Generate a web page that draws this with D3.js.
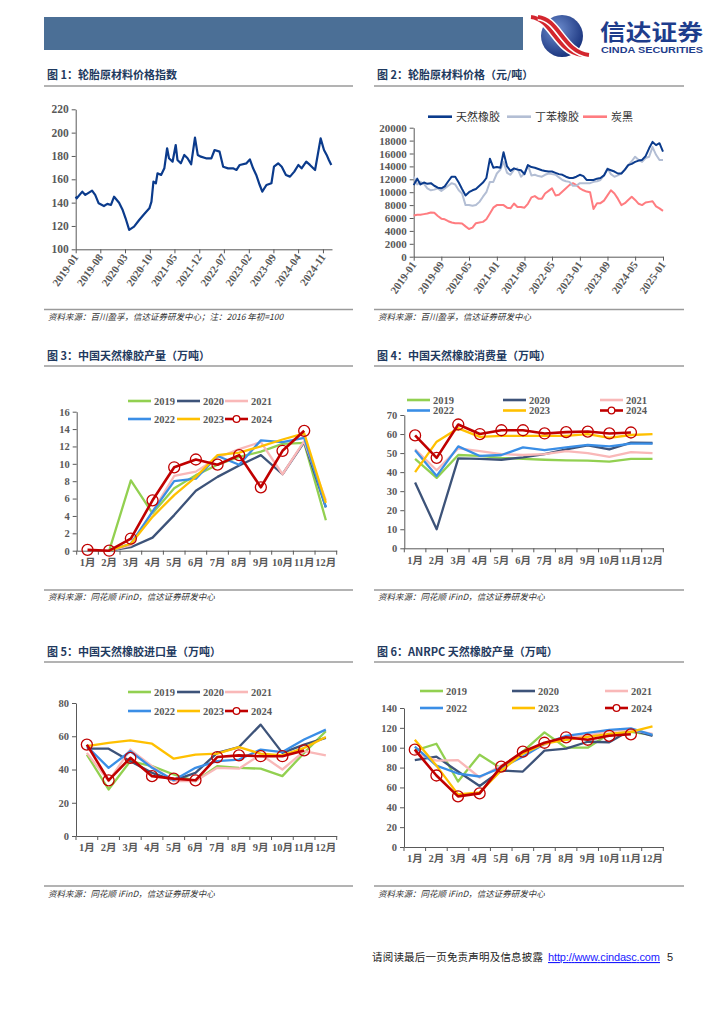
<!DOCTYPE html>
<html>
<head>
<meta charset="utf-8">
<script src="https://cdn.jsdelivr.net/npm/d3@7"></script>
<style>
body { margin: 0; background: #fff; }
svg { display: block; }
</style>
</head>
<body>
<script>

// fig 1: tyre raw material price index (2016 start = 100)
var idxDates = ["2019-01-01","2019-01-10","2019-02-27","2019-03-25","2019-04-25","2019-05-22","2019-06-18","2019-07-18",
	"2019-09-01","2019-10-01","2019-11-01","2019-11-28","2020-01-10","2020-02-10","2020-03-06","2020-04-06","2020-05-18",
	"2020-07-01","2020-08-12","2020-09-27","2020-10-15","2020-11-01","2020-11-22","2020-12-06","2021-01-06","2021-02-03",
	"2021-02-27","2021-03-15","2021-04-15","2021-05-12","2021-05-27","2021-06-25","2021-07-25","2021-08-22","2021-09-22",
	"2021-10-25","2021-11-18","2021-12-15","2022-01-28","2022-03-15","2022-04-12","2022-05-25","2022-06-25","2022-08-06",
	"2022-09-18","2022-10-18","2022-11-15","2023-01-12","2023-02-10","2023-03-10","2023-04-06","2023-05-06","2023-05-28",
	"2023-07-03","2023-08-15","2023-09-06","2023-10-12","2023-11-12","2023-12-18","2024-01-22","2024-02-28","2024-04-03",
	"2024-05-01","2024-06-10","2024-07-12","2024-08-25","2024-09-12","2024-10-12","2024-11-10","2024-12-03","2024-12-22","2025-01-12"];
var idxValues = [145.1,143.7,149.4,146.6,148.6,150.3,146.6,139.4,
	137.1,138.9,138.0,145.1,139.9,133.6,126.6,116.6,119.4,
	125.1,130.0,135.1,140.9,158.0,156.6,165.1,163.7,169.4,
	186.6,178.0,175.1,189.4,176.6,173.7,180.9,178.0,172.9,
	195.7,180.9,179.4,178.0,178.0,185.1,183.7,170.8,169.4,
	169.4,168.0,172.3,173.7,177.1,169.4,163.7,155.1,149.4,
	155.1,156.6,170.8,173.7,170.8,163.7,162.3,166.6,172.3,
	169.4,175.1,172.3,168.0,178.0,195.1,185.1,180.9,176.6,172.3];
var idxTickDates = ["2019-01","2019-08","2020-03","2020-10","2021-05","2021-12","2022-07","2023-02","2023-09","2024-04","2024-11"];
var idxTickValues = [100,120,140,160,180,200,220];

// fig 2: tyre raw material prices, monthly from 2019-01 to 2025-01 (yuan/t)
var priceNames = ["天然橡胶","丁苯橡胶","炭黑"];
var priceColors = ["#0b3b8c","#b3bed4","#ff7c80"];
var rubberPrice = [11100,12100,11200,11500,11300,11400,11000,10700,10600,10900,11700,12400,
	12400,11500,10500,9500,10000,10300,10500,11000,11500,12200,15200,13800,
	13900,13800,16200,14000,13300,13700,13500,13400,12800,14200,13900,13800,
	13600,13400,13300,13200,13200,13000,12800,12700,12400,12200,12200,12400,
	12700,12500,11900,11900,11900,12100,12200,12600,13600,13400,13200,12900,
	12900,13500,14200,14400,14700,14900,15000,15600,16800,17800,17300,17600,
	16300];
var sbrPrice = [12400,11200,11600,11300,10600,10300,10400,10600,10200,10600,11000,11400,
	11200,10300,9800,8000,8000,7900,8000,8500,9300,10000,11600,11600,
	12900,13500,14700,13000,12700,13500,13700,12400,12900,14200,12600,12700,
	12500,12400,12700,12900,12800,12700,12300,11900,11700,11600,11000,11000,
	11400,11400,11400,11400,11600,11700,11900,12600,13700,12800,12400,12600,
	12900,13500,14200,14800,15500,15000,14700,15300,15500,17000,15800,15000,
	15000];
var carbonPrice = [6400,6500,6500,6600,6700,6850,6800,6300,5900,5800,5500,5300,
	5200,5200,5150,4700,4300,4500,5200,5300,5400,5800,6700,7600,
	8000,8000,8000,7600,7500,8250,7700,7700,7600,8200,9200,9400,
	9000,9000,9800,10200,10600,9500,9600,10100,10600,11100,11400,11100,
	10600,10300,10100,10000,7400,8300,8300,8700,9500,10300,9800,9000,
	8000,8300,8800,9300,8800,8200,8000,8400,8500,8600,7800,7500,
	7100];
var priceTickDates = ["2019-01","2019-09","2020-05","2021-01","2021-09","2022-05","2023-01","2023-09","2024-05","2025-01"];
var priceTickValues = [0,2000,4000,6000,8000,10000,12000,14000,16000,18000,20000];

// fig 3-6: monthly series by year
var months = ["1月","2月","3月","4月","5月","6月","7月","8月","9月","10月","11月","12月"];
var years = ["2019","2020","2021","2022","2023","2024"];
var yearColors = ["#92d050","#3d5379","#f9b8b8","#3a8ee6","#ffc000","#c00000"];

// fig 3: China natural rubber output (10k t)
var prod2019 = [null,0,8.1,4.3,7.2,8.7,9.9,10.8,11.4,12.3,12.4,3.5];
var prod2020 = [null,0,0.4,1.5,4.1,6.9,8.5,9.8,11.0,8.8,12.5,5.0];
var prod2021 = [null,0,0.6,4.5,8.6,9.1,10.7,11.7,12.5,8.8,12.6,5.8];
var prod2022 = [null,0,0.8,4.5,8.0,8.3,10.9,9.9,12.7,12.5,13.0,5.0];
var prod2023 = [null,0,0.8,3.9,6.4,8.5,11.0,11.3,12.0,12.8,13.5,5.5];
var prod2024 = [0.1,0,1.4,5.8,9.6,10.5,9.9,11.0,7.3,11.5,13.8,null];

// fig 4: China natural rubber consumption (10k t)
var cons2019 = [47,37,49,48.5,47.5,47,46.5,46.2,46,45.5,47,47];
var cons2020 = [34.5,10,47.2,47,46.5,47.8,49.5,52,54,52,55.5,55.3];
var cons2021 = [52,41,52.5,51,49.5,49,49.5,51,50,48,50.5,50];
var cons2022 = [51.5,38,53.5,48.5,49,53,51.5,53,54.3,53.5,55,55];
var cons2023 = [40,56,63,58.5,59,59,59,59,60,58,59.5,60];
var cons2024 = [59.3,47.5,65,60,62,62,60.3,61,61.3,60.3,60.8,null];

// fig 5: China natural rubber imports (10k t)
var imp2019 = [49,28,45,42,37,33,42,41,40.5,36,50,63];
var imp2020 = [52.5,52.5,45,38,33.5,38,50,53.5,67,50,55,59];
var imp2021 = [50,33,52,42,33,33,41,40.5,49,40,51,48.5];
var imp2022 = [54,41,51,41,33.5,41,45,46,52,50.5,58,64];
var imp2023 = [54,56,57.5,55.5,46.5,49,49.5,53.5,49.5,48.5,53,59.5];
var imp2024 = [55,33.5,47,36,34.5,33.5,47.5,48.5,48,48,51.5,null];

// fig 6: ANRPC natural rubber output (10k t)
var anrpc2019 = [97,104,66,93,79,96,115.5,100,100,114,116,113];
var anrpc2020 = [87.5,91,76,61.5,77,76,97,99,106,105.5,118,112];
var anrpc2021 = [95,87,87.5,70,82,94,103,111,112,117,118,114];
var anrpc2022 = [101,82,74,71,80,91,104,112,115,118,119.5,113];
var anrpc2023 = [108,82,53,55,77,94,104,108,111,114,116,121.5];
var anrpc2024 = [98,72,51,54,81,96,105,110.5,108,112,113.5,null];

// ---------- page ----------
var parseDay = d3.timeParse("%Y-%m-%d");
var parseMonth = d3.timeParse("%Y-%m");
var serif = "'Liberation Serif', 'Noto Sans CJK SC', serif";
var cjk = "'Noto Sans CJK SC', sans-serif";

var svg = d3.select("body").append("svg")
	.attr("width", 724)
	.attr("height", 1024);
var defs = svg.append("defs");

drawHeader();
drawFrame(44, 353, 79, 86, 309.5, 320, "图 1：轮胎原材料价格指数", "资料来源：百川盈孚，信达证券研发中心；注：2016 年初=100");
drawFrame(374, 684, 79, 86, 309.5, 320, "图 2：轮胎原材料价格（元/吨）", "资料来源：百川盈孚，信达证券研发中心");
drawFrame(44, 353, 360, 366, 590, 600, "图 3：中国天然橡胶产量（万吨）", "资料来源：同花顺 iFinD，信达证券研发中心");
drawFrame(374, 684, 360, 366, 590, 600, "图 4：中国天然橡胶消费量（万吨）", "资料来源：同花顺 iFinD，信达证券研发中心");
drawFrame(44, 353, 656, 662, 886, 897, "图 5：中国天然橡胶进口量（万吨）", "资料来源：同花顺 iFinD，信达证券研发中心");
drawFrame(374, 684, 656, 662, 886, 897, "图 6：ANRPC 天然橡胶产量（万吨）", "资料来源：同花顺 iFinD，信达证券研发中心");

drawIndexChart();
drawPriceChart();

drawMonthChart({ x0: 76.7, x1: 336.7, yTop: 411.7, yBottom: 550.7, max: 16, ticks: [0,2,4,6,8,10,12,14,16],
	series: [prod2019, prod2020, prod2021, prod2022, prod2023, prod2024],
	legendX: [128, 177, 225], legendY: [401, 419] });
drawMonthChart({ x0: 404.3, x1: 663.3, yTop: 415, yBottom: 548.3, max: 70, ticks: [0,10,20,30,40,50,60,70],
	series: [cons2019, cons2020, cons2021, cons2022, cons2023, cons2024],
	legendX: [407, 503, 600], legendY: [400, 410.5] });
drawMonthChart({ x0: 76, x1: 336.7, yTop: 703, yBottom: 836, max: 80, ticks: [0,20,40,60,80],
	series: [imp2019, imp2020, imp2021, imp2022, imp2023, imp2024],
	legendX: [128, 177, 225], legendY: [692, 711] });
drawMonthChart({ x0: 404, x1: 663.3, yTop: 708, yBottom: 847, max: 140, ticks: [0,20,40,60,80,100,120,140],
	series: [anrpc2019, anrpc2020, anrpc2021, anrpc2022, anrpc2023, anrpc2024],
	legendX: [420, 512, 605], legendY: [691, 708] });

drawFooter();

// Blue band and the company logo at the top
function drawHeader() {
	svg.append("rect")
		.attr("x", 44)
		.attr("y", 17)
		.attr("width", 479)
		.attr("height", 33)
		.attr("fill", "#4b6f96");

	var grad = defs.append("radialGradient")
		.attr("id", "logoGrad")
		.attr("cx", "38%")
		.attr("cy", "35%")
		.attr("r", "70%");
	grad.append("stop").attr("offset", "0%").attr("stop-color", "#6f8fd0");
	grad.append("stop").attr("offset", "100%").attr("stop-color", "#16307a");

	svg.append("circle")
		.attr("cx", 562)
		.attr("cy", 36)
		.attr("r", 21)
		.attr("fill", "url(#logoGrad)");

	// red swoosh across the globe
	[0, 7].forEach(function(off) {
		svg.append("path")
			.attr("d", "M" + (531 + off) + ",17 C" + (552 + off) + ",19 " + (556 + off) + ",52 " + (582 + off) + ",55")
			.attr("fill", "none")
			.attr("stroke", "#fff")
			.attr("stroke-width", 7);
		svg.append("path")
			.attr("d", "M" + (531 + off) + ",17 C" + (552 + off) + ",19 " + (556 + off) + ",52 " + (582 + off) + ",55")
			.attr("fill", "none")
			.attr("stroke", "#d3262e")
			.attr("stroke-width", 4);
	});

	svg.append("text")
		.attr("x", 600)
		.attr("y", 40)
		.attr("textLength", 103)
		.attr("lengthAdjust", "spacingAndGlyphs")
		.style("font-family", cjk)
		.style("font-weight", "bold")
		.style("font-size", "22px")
		.attr("fill", "#1e3d8c")
		.text("信达证券");
	svg.append("text")
		.attr("x", 601)
		.attr("y", 53)
		.attr("textLength", 102)
		.attr("lengthAdjust", "spacingAndGlyphs")
		.style("font-family", "'Liberation Sans', Arial, sans-serif")
		.style("font-weight", "bold")
		.style("font-size", "8.5px")
		.attr("fill", "#1e3d8c")
		.text("CINDA SECURITIES");
}

// Title, two grey rules and the source note of one chart block
function drawFrame(x0, x1, titleY, ruleTop, ruleBottom, sourceY, title, source) {
	svg.append("text")
		.attr("x", x0 + 3)
		.attr("y", titleY)
		.style("font-family", cjk)
		.style("font-weight", "bold")
		.style("font-size", "11px")
		.attr("fill", "#1f3a60")
		.text(title);

	[ruleTop, ruleBottom].forEach(function(yy) {
		svg.append("line")
			.attr("x1", x0)
			.attr("x2", x1)
			.attr("y1", yy)
			.attr("y2", yy)
			.attr("stroke", "#9a9a9a")
			.attr("stroke-width", 1.5);
	});

	svg.append("text")
		.attr("x", x0 + 4)
		.attr("y", sourceY)
		.style("font-family", cjk)
		.style("font-style", "italic")
		.style("font-size", "8.5px")
		.attr("fill", "#333")
		.text(source);
}

function styleAxis(g, size) {
	g.attr("font-family", null).attr("font-size", null);
	g.selectAll(".domain, .tick line").attr("stroke", "#595959");
	g.selectAll("text")
		.attr("fill", "#595959")
		.style("font-family", serif)
		.style("font-weight", "bold")
		.style("font-size", size + "px");
}

// Fig 1: single daily-ish index line
function drawIndexChart() {
	var x = d3.scaleTime()
		.domain([parseDay("2019-01-01"), parseDay("2025-01-18")])
		.range([75.7, 332]);
	var y = d3.scaleLinear()
		.domain([100, 220])
		.range([249.3, 109.3]);

	var xAxis = svg.append("g")
		.attr("transform", "translate(0,249.3)")
		.call(d3.axisBottom(x)
			.tickValues(idxTickDates.map(parseMonth))
			.tickFormat(d3.timeFormat("%Y-%m"))
			.tickSize(4)
			.tickSizeOuter(0));
	styleAxis(xAxis, 11);
	xAxis.selectAll("text")
		.attr("x", -5)
		.attr("y", 3)
		.attr("dy", "0.35em")
		.attr("transform", "rotate(-55)")
		.style("text-anchor", "end");

	var yAxis = svg.append("g")
		.attr("transform", "translate(75.7,0)")
		.call(d3.axisLeft(y).tickValues(idxTickValues).tickSize(4).tickPadding(3).tickSizeOuter(0));
	styleAxis(yAxis, 11.5);

	var points = idxDates.map(function(d, i) {
		return { date: parseDay(d), value: idxValues[i] };
	});
	svg.append("path")
		.datum(points)
		.attr("fill", "none")
		.attr("stroke", "#0b3b8c")
		.attr("stroke-width", 2.2)
		.attr("stroke-linejoin", "round")
		.attr("d", d3.line()
			.x(function(d) { return x(d.date); })
			.y(function(d) { return y(d.value); }));
}

// Fig 2: three monthly price lines
function drawPriceChart() {
	var priceMonths = d3.timeMonth.range(parseDay("2019-01-01"), parseDay("2025-01-02"));
	var x = d3.scaleTime()
		.domain([parseDay("2019-01-01"), parseDay("2025-01-01")])
		.range([413.7, 663]);
	var y = d3.scaleLinear()
		.domain([0, 20000])
		.range([256.7, 127.7]);

	var xAxis = svg.append("g")
		.attr("transform", "translate(0,256.7)")
		.call(d3.axisBottom(x)
			.tickValues(priceTickDates.map(parseMonth))
			.tickFormat(d3.timeFormat("%Y-%m"))
			.tickSize(4)
			.tickSizeOuter(0));
	styleAxis(xAxis, 11);
	xAxis.selectAll("text")
		.attr("x", -5)
		.attr("y", 3)
		.attr("dy", "0.35em")
		.attr("transform", "rotate(-55)")
		.style("text-anchor", "end");

	var yAxis = svg.append("g")
		.attr("transform", "translate(413.7,0)")
		.call(d3.axisLeft(y)
			.tickValues(priceTickValues)
			.tickFormat(d3.format("d"))
			.tickSize(4)
			.tickPadding(3)
			.tickSizeOuter(0));
	styleAxis(yAxis, 11);

	var line = d3.line()
		.x(function(d) { return x(d.date); })
		.y(function(d) { return y(d.value); });

	// carbon black first, natural rubber on top
	var series = [rubberPrice, sbrPrice, carbonPrice];
	[2, 1, 0].forEach(function(k) {
		var points = series[k].map(function(v, i) {
			return { date: priceMonths[i], value: v };
		});
		svg.append("path")
			.datum(points)
			.attr("fill", "none")
			.attr("stroke", priceColors[k])
			.attr("stroke-width", 2)
			.attr("stroke-linejoin", "round")
			.attr("d", line);
	});

	// legend
	var legendLine = [428, 507, 583];
	priceNames.forEach(function(name, k) {
		svg.append("line")
			.attr("x1", legendLine[k])
			.attr("x2", legendLine[k] + 24)
			.attr("y1", 116.7)
			.attr("y2", 116.7)
			.attr("stroke", priceColors[k])
			.attr("stroke-width", 2.6);
		svg.append("text")
			.attr("x", legendLine[k] + 28)
			.attr("y", 120.5)
			.style("font-family", cjk)
			.style("font-size", "11px")
			.attr("fill", "#333")
			.text(name);
	});
}

// Fig 3-6: one line per year across the 12 months
function drawMonthChart(cfg) {
	var x = d3.scaleBand()
		.domain(months)
		.range([cfg.x0, cfg.x1]);
	var y = d3.scaleLinear()
		.domain([0, cfg.max])
		.range([cfg.yBottom, cfg.yTop]);

	var yAxis = svg.append("g")
		.attr("transform", "translate(" + cfg.x0 + ",0)")
		.call(d3.axisLeft(y).tickValues(cfg.ticks).tickSize(4).tickPadding(3).tickSizeOuter(0));
	styleAxis(yAxis, 10.5);

	var xAxis = svg.append("g")
		.attr("transform", "translate(0," + cfg.yBottom + ")")
		.call(d3.axisBottom(x).tickSize(0).tickPadding(8).tickSizeOuter(0));
	styleAxis(xAxis, 10.5);

	// ticks sit on the band edges
	var edges = months.map(function(m) { return x(m); }).concat([x.range()[1]]);
	xAxis.selectAll(".edge")
		.data(edges)
		.enter()
		.append("line")
		.attr("class", "edge")
		.attr("x1", function(d) { return d; })
		.attr("x2", function(d) { return d; })
		.attr("y1", 0)
		.attr("y2", 4)
		.attr("stroke", "#595959");

	var line = d3.line()
		.defined(function(d) { return d.v != null; })
		.x(function(d) { return x(d.m) + x.bandwidth() / 2; })
		.y(function(d) { return y(d.v); });

	cfg.series.forEach(function(vals, i) {
		var points = vals.map(function(v, j) { return { m: months[j], v: v }; });
		svg.append("path")
			.datum(points)
			.attr("fill", "none")
			.attr("stroke", yearColors[i])
			.attr("stroke-width", i == 5 ? 2.6 : 2.3)
			.attr("stroke-linejoin", "round")
			.attr("d", line);

		if (i == 5) {
			svg.append("g")
				.selectAll("circle")
				.data(points.filter(function(d) { return d.v != null; }))
				.enter()
				.append("circle")
				.attr("cx", function(d) { return x(d.m) + x.bandwidth() / 2; })
				.attr("cy", function(d) { return y(d.v); })
				.attr("r", 5.5)
				.attr("fill", "none")
				.attr("stroke", yearColors[i])
				.attr("stroke-width", 1.3);
		}

		// legend entry
		var lx = cfg.legendX[i % 3];
		var ly = cfg.legendY[Math.floor(i / 3)];
		svg.append("line")
			.attr("x1", lx)
			.attr("x2", lx + 23)
			.attr("y1", ly)
			.attr("y2", ly)
			.attr("stroke", yearColors[i])
			.attr("stroke-width", 2.6);
		if (i == 5) {
			svg.append("circle")
				.attr("cx", lx + 11.5)
				.attr("cy", ly)
				.attr("r", 3.3)
				.attr("fill", "#fff")
				.attr("stroke", yearColors[i])
				.attr("stroke-width", 1.3);
		}
		svg.append("text")
			.attr("x", lx + 26)
			.attr("y", ly + 3.8)
			.style("font-family", serif)
			.style("font-weight", "bold")
			.style("font-size", "10.5px")
			.attr("fill", "#595959")
			.text(years[i]);
	});
}

// Disclaimer line and page number
function drawFooter() {
	svg.append("text")
		.attr("x", 372)
		.attr("y", 961)
		.attr("textLength", 171)
		.style("font-family", cjk)
		.style("font-size", "10.5px")
		.attr("fill", "#222")
		.text("请阅读最后一页免责声明及信息披露");
	svg.append("text")
		.attr("x", 548)
		.attr("y", 961)
		.attr("textLength", 112)
		.style("font-family", "'Liberation Sans', Arial, sans-serif")
		.style("font-size", "11px")
		.style("text-decoration", "underline")
		.attr("fill", "#1a1aff")
		.text("http://www.cindasc.com");
	svg.append("text")
		.attr("x", 667)
		.attr("y", 961)
		.style("font-family", "'Liberation Sans', Arial, sans-serif")
		.style("font-size", "11px")
		.attr("fill", "#222")
		.text("5");
}
</script>
</body>
</html>
